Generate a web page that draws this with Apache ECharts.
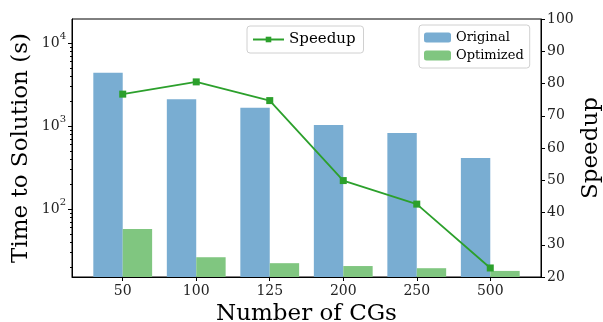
<!DOCTYPE html>
<html>
<head>
<meta charset="utf-8">
<script src="https://cdn.jsdelivr.net/npm/echarts@6/dist/echarts.min.js"></script>
<style>
  html, body { margin: 0; padding: 0; background: #fff; }
  #chart { width: 603px; height: 322px; }
</style>
</head>
<body>
<div id="chart"></div>
<script>
// Number of CGs on the x axis
const categories = ['50', '100', '125', '200', '250', '500'];
// Time to solution in seconds (log scale)
const original = [4400, 2110, 1660, 1030, 825, 412];
const optimized = [57.4, 26.3, 22.3, 20.6, 19.4, 18.0];
// Speedup of the optimized version (right axis)
const speedup = [76.7, 80.5, 74.7, 49.9, 42.6, 22.8];
// Tick labels
const logMajorTicks = [100, 1000, 10000];
const logMinorTicks = [20, 30, 40, 50, 60, 70, 80, 90, 200, 300, 400, 500, 600, 700, 800, 900,
  2000, 3000, 4000, 5000, 6000, 7000, 8000, 9000];

const FONT = '"DejaVu Serif", serif';
const BLUE = '#79add2';
const GREEN_BAR = '#80c680';
const GREEN = '#2ca02c';

const idx = categories.map((c, i) => i);

const chart = echarts.init(document.getElementById('chart'), null, { renderer: 'canvas' });

const logCommon = {
  type: 'log',
  logBase: 10,
  min: 15.2,
  max: 19500,
  position: 'left',
  splitLine: { show: false },
  minorSplitLine: { show: false },
};

chart.setOption({
  animation: false,
  backgroundColor: '#fff',
  textStyle: { fontFamily: FONT },
  grid: {
    left: 72, right: 62, top: 19, bottom: 45,
    show: true, borderColor: '#000', borderWidth: 1,
    containLabel: false, outerBoundsMode: 'none'
  },
  legend: [
    {
      data: ['Speedup'],
      left: 247, top: 26,
      padding: [6, 8, 6, 5],
      itemWidth: 31, itemHeight: 7,
      itemGap: 11,
      backgroundColor: 'rgba(255,255,255,0.8)',
      borderColor: '#d0d0d0', borderWidth: 1, borderRadius: 3,
      textStyle: { fontFamily: FONT, fontSize: 15, color: '#000' }
    },
    {
      data: ['Original', 'Optimized'],
      orient: 'vertical',
      left: 419, top: 25,
      padding: [6, 6, 6, 5],
      itemWidth: 27, itemHeight: 10,
      itemGap: 5,
      backgroundColor: 'rgba(255,255,255,0.8)',
      borderColor: '#d0d0d0', borderWidth: 1, borderRadius: 3,
      textStyle: { fontFamily: FONT, fontSize: 13, color: '#000' }
    }
  ],
  xAxis: {
    type: 'value',
    min: -0.69,
    max: 5.69,
    name: 'Number of CGs',
    nameLocation: 'middle',
    nameGap: 26,
    nameMoveOverlap: false,
    nameTextStyle: { fontFamily: FONT, fontSize: 23, color: '#000', verticalAlign: 'top' },
    axisLine: { show: true, onZero: false, lineStyle: { color: '#000', width: 1 } },
    axisTick: { show: true, length: 4, customValues: idx, lineStyle: { color: '#000' } },
    axisLabel: {
      customValues: idx,
      margin: 7,
      fontFamily: FONT, fontSize: 14, color: '#222',
      formatter: v => categories[Math.round(v)]
    },
    splitLine: { show: false }
  },
  yAxis: [
    Object.assign({}, logCommon, {
      name: 'Time to Solution (s)',
      nameLocation: 'middle',
      nameGap: 39,
      nameMoveOverlap: false,
      nameTextStyle: { fontFamily: FONT, fontSize: 23, color: '#000' },
      axisLine: { show: true, onZero: false, lineStyle: { color: '#000', width: 1 } },
      axisTick: { show: true, length: 4, customValues: logMajorTicks, lineStyle: { color: '#000' } },
      axisLabel: {
        customValues: logMajorTicks,
        margin: 6,
        color: '#222',
        formatter: v => '{b|10}{s|' + Math.round(Math.log10(v)) + '}',
        rich: {
          b: { fontFamily: FONT, fontSize: 14, lineHeight: 23, verticalAlign: 'middle', color: '#222' },
          s: { fontFamily: FONT, fontSize: 10, lineHeight: 10, verticalAlign: 'top', color: '#222' }
        }
      }
    }),
    Object.assign({}, logCommon, {
      axisLine: { show: false, onZero: false },
      axisTick: { show: true, length: 2, customValues: logMinorTicks, lineStyle: { color: '#000' } },
      axisLabel: { show: false }
    }),
    {
      type: 'value',
      position: 'right',
      min: 20,
      max: 100,
      interval: 10,
      name: 'Speedup',
      nameLocation: 'middle',
      nameGap: 39,
      nameRotate: 90,
      nameMoveOverlap: false,
      nameTextStyle: { fontFamily: FONT, fontSize: 23, color: '#000' },
      axisLine: { show: true, onZero: false, lineStyle: { color: '#000', width: 1 } },
      axisTick: { show: true, length: 4, lineStyle: { color: '#000' } },
      axisLabel: { margin: 6, fontFamily: FONT, fontSize: 14, color: '#222' },
      splitLine: { show: false }
    }
  ],
  series: [
    {
      name: 'Original',
      type: 'bar',
      yAxisIndex: 0,
      barWidth: '40%',
      barGap: '0%',
      clip: true,
      itemStyle: { color: BLUE },
      data: idx.map(i => [i, original[i]])
    },
    {
      name: 'Optimized',
      type: 'bar',
      yAxisIndex: 0,
      barWidth: '40%',
      barGap: '0%',
      clip: true,
      itemStyle: { color: GREEN_BAR },
      data: idx.map(i => [i, optimized[i]])
    },
    {
      name: 'Speedup',
      type: 'line',
      yAxisIndex: 2,
      symbol: 'rect',
      symbolSize: 7,
      lineStyle: { color: GREEN, width: 1.8 },
      itemStyle: { color: GREEN },
      z: 5,
      data: idx.map(i => [i, speedup[i]])
    }
  ]
});
</script>
</body>
</html>
